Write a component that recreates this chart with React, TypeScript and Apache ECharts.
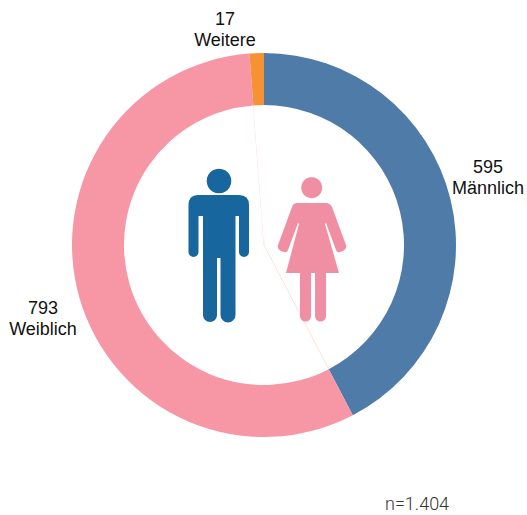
import React, { useEffect, useRef } from "react";
import * as echarts from "echarts";

const categories = ["Männlich", "Weiblich", "Weitere"];
const values = [595, 793, 17];
const colors = ["#4f7ba8", "#f797a5", "#f79234"];
const sampleNote = "n=1.404";

const manPath =
  "M198 195 H239 Q249 195 249 205 V252 A5 5 0 0 1 239 252 V216 H235.5 V315 A7.5 7.5 0 0 1 220.5 315 V258 H217 V315 A7 7 0 0 1 203 315 V216 H198.5 V252 A5 5 0 0 1 188.5 252 V205 Q188.5 195 198 195 Z";
const womanPath =
  "M297 203 H326 Q330 203 332 207 L346 245 Q347 249 343 251 L340 252 Q337 253 336 250 L326 223 L325 224 L339 273 H326 V316 A5.4 5.4 0 0 1 315 316 V273 H311 V316 A5.4 5.4 0 0 1 300 316 V273 H286 L299 224 L298 223 L288 250 Q287 253 284 252 L281 251 Q277 249 278 245 L292 207 Q293.5 203 297 203 Z";

echarts.graphic.registerShape("manIcon", echarts.graphic.extendPath(manPath, {}));
echarts.graphic.registerShape("womanIcon", echarts.graphic.extendPath(womanPath, {}));

const labelSpots = [
  { x: 488, y: 177 },
  { x: 43, y: 318 },
  { x: 225, y: 29 },
];

export default function App() {
  const ref = useRef<HTMLDivElement>(null);
  useEffect(() => {
    document.body.style.margin = "0";
    const chart = echarts.init(ref.current!, null, { renderer: "svg" });
    chart.setOption({
      animation: false,
      backgroundColor: "#ffffff",
      series: [
        {
          type: "pie",
          silent: true,
          z: 1,
          center: [264, 245],
          radius: [0, 146],
          startAngle: 90,
          label: { show: false },
          labelLine: { show: false },
          data: categories.map((name, i) => ({
            name,
            value: values[i],
            itemStyle: {
              color: "#ffffff",
              borderColor: i === 1 ? "rgba(240,165,140,0.55)" : "rgba(255,255,255,0)",
              borderWidth: i === 1 ? 0.6 : 0,
            },
          })),
        },
        {
          type: "pie",
          silent: true,
          z: 2,
          center: [264, 245],
          radius: [140, 192],
          startAngle: 90,
          label: {
            show: true,
            position: "outside",
            formatter: (p: any) => `${p.value}\n${p.name}`,
            fontFamily: "Liberation Sans",
            fontSize: 18,
            lineHeight: 21,
            color: "#111111",
            align: "center",
            overflow: "none",
            width: 120,
          },
          labelLine: { show: false },
          labelLayout: (p: any) => ({
            x: labelSpots[p.dataIndex].x,
            y: labelSpots[p.dataIndex].y,
            align: "center",
            verticalAlign: "middle",
          }),
          data: categories.map((name, i) => ({
            name,
            value: values[i],
            itemStyle: { color: colors[i] },
          })),
        },
      ],
      graphic: [
        { type: "circle", z: 10, shape: { cx: 219, cy: 181, r: 12.3 }, style: { fill: "#17669e" } },
        { type: "manIcon", z: 10, x: 0, y: 0, style: { fill: "#17669e" } },
        { type: "circle", z: 10, shape: { cx: 311.7, cy: 187.7, r: 10.5 }, style: { fill: "#f08fa4" } },
        { type: "womanIcon", z: 10, x: 0, y: 0, style: { fill: "#f08fa4" } },
        {
          type: "text",
          z: 10,
          x: 385,
          y: 503,
          style: {
            text: sampleNote,
            fontFamily: "Roboto",
            fontWeight: 300,
            fontSize: 18,
            lineHeight: 14,
            verticalAlign: "middle",
            fill: "#333333",
          },
        },
      ],
    });
    return () => chart.dispose();
  }, []);
  return (
    <div
      ref={ref}
      style={{ position: "absolute", left: 0, top: 0, width: 527, height: 515 }}
    />
  );
}
